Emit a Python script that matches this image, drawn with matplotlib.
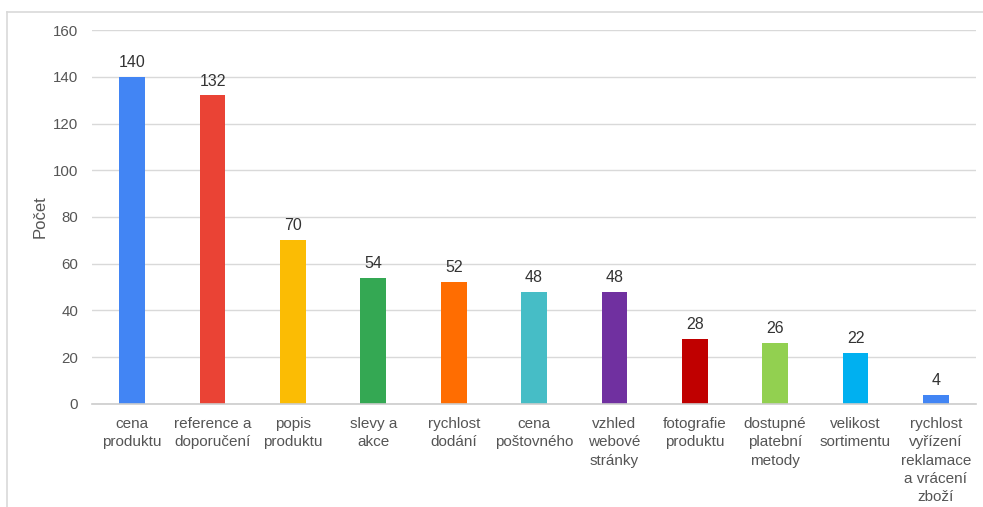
import matplotlib.pyplot as plt
from matplotlib.lines import Line2D

plt.rcParams["font.family"] = ["Liberation Sans", "DejaVu Sans"]

categories = [
    "cena\nproduktu",
    "reference a\ndoporučení",
    "popis\nproduktu",
    "slevy a\nakce",
    "rychlost\ndodání",
    "cena\npoštovného",
    "vzhled\nwebové\nstránky",
    "fotografie\nproduktu",
    "dostupné\nplatební\nmetody",
    "velikost\nsortimentu",
    "rychlost\nvyřízení\nreklamace\na vrácení\nzboží",
]
counts = [140, 132, 70, 54, 52, 48, 48, 28, 26, 22, 4]
colors = [
    "#4285F4", "#EA4335", "#FBBC04", "#34A853", "#FF6D01", "#46BDC6",
    "#7030A0", "#C00000", "#92D050", "#00B0F0", "#4285F4",
]
y_ticks = [0, 20, 40, 60, 80, 100, 120, 140, 160]

fig = plt.figure(figsize=(9.83, 5.07), dpi=100)
ax = fig.add_axes([0.0936, 0.2032, 0.8994, 0.7376])

x = range(len(counts))
bars = ax.bar(x, counts, width=0.32, color=colors, zorder=3)

for bar, val in zip(bars, counts):
    ax.annotate(str(val), (bar.get_x() + bar.get_width() / 2, val),
                xytext=(0, 5), textcoords="offset points",
                ha="center", va="bottom", fontsize=11.5, color="#333333")

ax.set_xlim(-0.5, len(counts) - 0.5)
ax.set_ylim(0, 160)
ax.set_yticks(y_ticks)
ax.set_xticks(list(x))
ax.set_xticklabels(categories, fontsize=11, color="#555555", linespacing=1.38)
ax.tick_params(axis="y", labelsize=10.8, labelcolor="#555555", length=0, pad=10)
ax.tick_params(axis="x", length=0, pad=9.5)
ax.grid(axis="y", color="#d9d9d9", linewidth=1, zorder=0)
for side in ["top", "right", "left"]:
    ax.spines[side].set_visible(False)
ax.spines["bottom"].set_color("#cccccc")
ax.spines["bottom"].set_linewidth(1.2)
ax.spines["bottom"].set_zorder(4)

ax.set_ylabel("Počet", fontsize=12, color="#555555", labelpad=4)

# light frame along the top and left edges
fig.add_artist(Line2D([6.5 / 983, 1], [1 - 11.5 / 507] * 2,
                      color="#d9d9d9", linewidth=1.2, transform=fig.transFigure))
fig.add_artist(Line2D([6.5 / 983] * 2, [0, 1 - 11.5 / 507],
                      color="#d9d9d9", linewidth=1.2, transform=fig.transFigure))

fig.savefig("out.png", dpi=100, facecolor="white")
